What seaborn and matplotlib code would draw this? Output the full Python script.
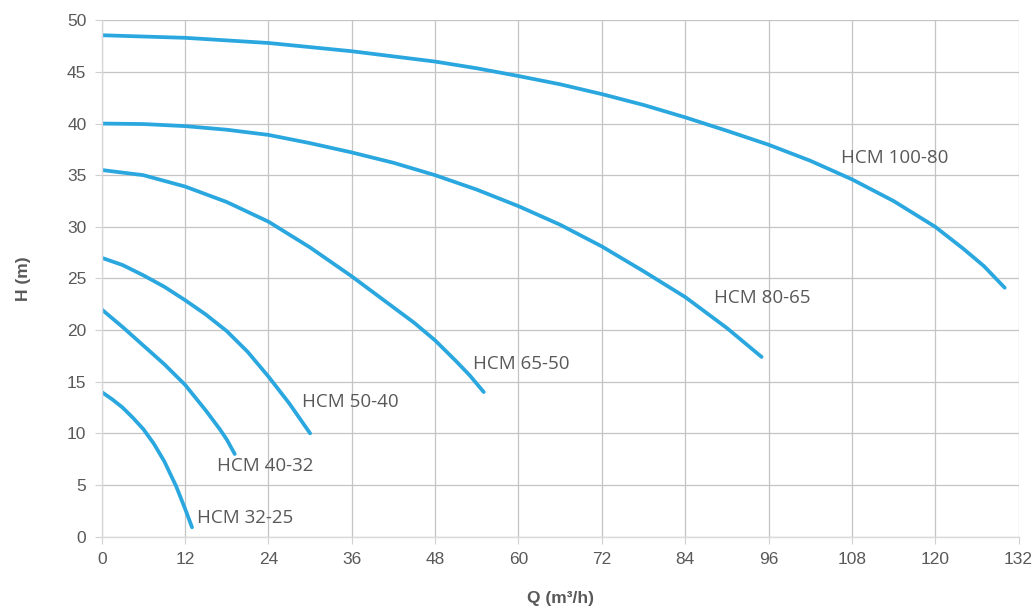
import pandas as pd
import seaborn as sns
import matplotlib.pyplot as plt

# values
q_100_80 = [0, 12, 24, 36, 48, 54, 60, 66, 72, 78, 84, 90, 96, 102, 108, 114, 120, 124, 127, 130]
h_100_80 = [48.55, 48.3, 47.8, 47.0, 46.0, 45.35, 44.6, 43.8, 42.85, 41.8, 40.6, 39.3,
            37.95, 36.4, 34.6, 32.5, 30.0, 27.9, 26.2, 24.1]

q_80_65 = [0, 6, 12, 18, 24, 30, 36, 42, 48, 54, 60, 66, 72, 78, 84, 90, 95]
h_80_65 = [40.0, 39.95, 39.75, 39.4, 38.9, 38.1, 37.2, 36.2, 35.0, 33.6, 32.0, 30.2,
           28.1, 25.7, 23.2, 20.2, 17.4]

q_65_50 = [0, 6, 12, 18, 24, 30, 36, 42, 45, 48, 51, 53, 55]
h_65_50 = [35.5, 35.0, 33.9, 32.4, 30.5, 28.0, 25.2, 22.2, 20.7, 19.0, 17.0, 15.6, 14.0]

q_50_40 = [0, 3, 6, 9, 12, 15, 18, 21, 24, 27, 30]
h_50_40 = [27.0, 26.3, 25.3, 24.2, 22.9, 21.5, 19.9, 17.9, 15.5, 12.9, 10.0]

q_40_32 = [0, 3, 6, 9, 12, 15, 17, 18, 19.15]
h_40_32 = [22.0, 20.3, 18.5, 16.7, 14.7, 12.2, 10.4, 9.4, 8.0]

q_32_25 = [0, 1.5, 3, 4.5, 6, 7.5, 9, 10.7, 12, 13]
h_32_25 = [14.0, 13.3, 12.5, 11.5, 10.4, 9.0, 7.3, 4.9, 2.7, 0.9]

names = ["HCM 100-80", "HCM 80-65", "HCM 65-50", "HCM 50-40", "HCM 40-32", "HCM 32-25"]
label_q = [106.5, 88.2, 53.5, 28.8, 16.6, 13.7]
label_h = [36.7, 23.1, 16.7, 13.0, 6.8, 1.8]

x_ticks = list(range(0, 133, 12))
y_ticks = list(range(0, 51, 5))

curves = [(q_100_80, h_100_80), (q_80_65, h_80_65), (q_65_50, h_65_50),
          (q_50_40, h_50_40), (q_40_32, h_40_32), (q_32_25, h_32_25)]
rows = []
for name, (qs, hs) in zip(names, curves):
    for q, h in zip(qs, hs):
        rows.append({"pump": name, "Q": q, "H": h})
df = pd.DataFrame(rows)

sns.set_style("white")
plt.rcParams["font.family"] = ["Liberation Sans", "DejaVu Sans"]

blue = "#29a7de"
fig = plt.figure(figsize=(10.36, 6.14), dpi=100)
ax = fig.add_axes([0.0982, 0.126, 0.885, 0.841])

sns.lineplot(data=df, x="Q", y="H", hue="pump", palette=[blue] * 6,
             sort=False, legend=False, linewidth=2.7, ax=ax,
             solid_capstyle="round", solid_joinstyle="round")

for name, lq, lh in zip(names, label_q, label_h):
    ax.text(lq, lh, name, fontsize=13.5, color="#595959", va="center",
            ha="left", family=["Open Sans", "DejaVu Sans"])

ax.set_xlim(0, 132)
ax.set_ylim(0, 50)
ax.set_xticks(x_ticks)
ax.set_yticks(y_ticks)
ax.grid(True, color="#c4c4c4", linewidth=0.9)
ax.set_axisbelow(True)
for side in ["top", "right"]:
    ax.spines[side].set_visible(False)
for side in ["left", "bottom"]:
    ax.spines[side].set_color("#d9d9d9")
    ax.spines[side].set_linewidth(1.0)
ax.tick_params(axis="both", colors="#595959", labelsize=12.5, length=5,
               width=0.8, direction="out", bottom=True, left=True, pad=6)
ax.tick_params(axis="both", color="#d0d0d0")

ax.set_xlabel("Q (m³/h)", fontsize=12.5, fontweight="bold", color="#595959", labelpad=17)
ax.set_ylabel("H (m)", fontsize=12.5, fontweight="bold", color="#595959", labelpad=26)

fig.savefig("out.png", dpi=100)
